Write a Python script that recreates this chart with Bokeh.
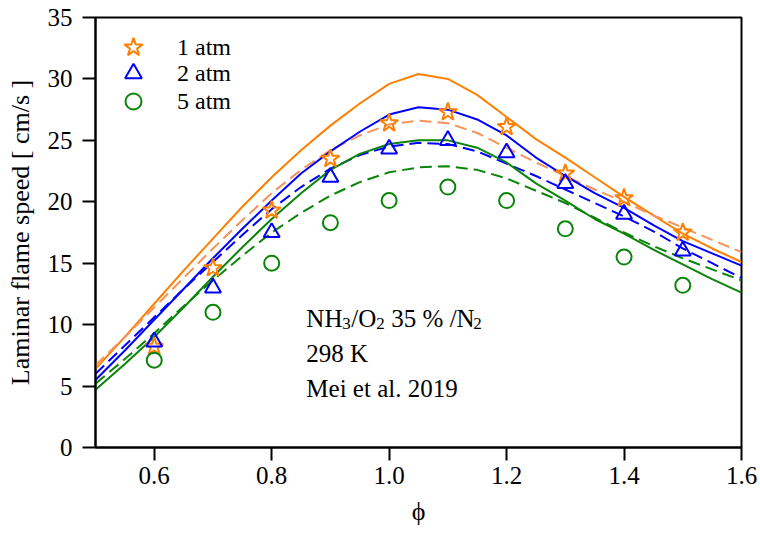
from bokeh.plotting import figure
from bokeh.models import Range1d, FixedTicker, PrintfTickFormatter, Label, Legend, LegendItem
from bokeh.embed import file_html
from bokeh.resources import INLINE

# ---- data ----
phi_curve = [0.50, 0.55, 0.60, 0.65, 0.70, 0.75, 0.80, 0.85, 0.90, 0.95, 1.00, 1.05,
             1.10, 1.15, 1.20, 1.25, 1.30, 1.35, 1.40, 1.45, 1.50, 1.55, 1.60]
sim_1atm_a = [6.4, 9.0, 11.7, 14.4, 17.0, 19.6, 22.0, 24.2, 26.2, 28.0, 29.6, 30.4,
              30.0, 28.7, 26.9, 25.1, 23.6, 22.0, 20.4, 18.9, 17.4, 16.2, 15.1]
sim_1atm_b = [6.7, 9.0, 11.4, 13.8, 16.2, 18.5, 20.7, 22.6, 24.2, 25.4, 26.3, 26.6,
              26.4, 25.6, 24.4, 23.2, 22.1, 21.0, 20.0, 18.9, 17.9, 16.9, 15.9]
sim_2atm_a = [5.5, 7.9, 10.4, 12.9, 15.4, 17.8, 20.1, 22.3, 24.1, 25.7, 27.1, 27.7,
              27.5, 26.7, 25.4, 23.6, 22.1, 20.7, 19.5, 18.1, 16.8, 15.8, 14.8]
sim_2atm_b = [6.0, 8.3, 10.6, 12.9, 15.1, 17.3, 19.4, 21.2, 22.7, 23.8, 24.5, 24.8,
              24.7, 24.1, 23.1, 22.1, 21.0, 19.9, 18.8, 17.6, 16.2, 15.0, 13.8]
sim_5atm_a = [4.7, 6.8, 9.0, 11.4, 13.9, 16.3, 18.6, 20.7, 22.6, 23.9, 24.7, 25.0,
              25.0, 24.4, 23.2, 21.5, 20.1, 18.6, 17.4, 16.1, 14.9, 13.7, 12.6]
sim_5atm_b = [5.2, 7.2, 9.3, 11.5, 13.6, 15.6, 17.5, 19.1, 20.5, 21.6, 22.4, 22.8,
              22.9, 22.6, 21.9, 20.9, 19.9, 18.7, 17.5, 16.4, 15.4, 14.5, 13.6]

phi_exp = [0.6, 0.7, 0.8, 0.9, 1.0, 1.1, 1.2, 1.3, 1.4, 1.5]
exp_1atm = [8.2, 14.6, 19.3, 23.5, 26.4, 27.3, 26.1, 22.3, 20.3, 17.5]
exp_2atm = [8.6, 13.0, 17.5, 22.0, 24.3, 25.0, 24.0, 21.5, 19.0, 16.0]
exp_5atm = [7.1, 11.0, 15.0, 18.3, 20.1, 21.2, 20.1, 17.8, 15.5, 13.2]

legend_labels = ["1 atm", "2 atm", "5 atm"]
x_ticks = [0.6, 0.8, 1.0, 1.2, 1.4, 1.6]
y_ticks = [0, 5, 10, 15, 20, 25, 30, 35]

FONT = "Liberation Serif"
AXFONT = "Liberation Serif, DejaVu Serif"
ORANGE = "#FF8000"
ORANGE_D = "#F5935A"
BLUE = "#0000FF"
GREEN = "#0A850A"

p = figure(width=760, height=535, output_backend="svg", toolbar_location=None,
           x_range=Range1d(0.5, 1.6), y_range=Range1d(0, 35),
           min_border_left=95, min_border_right=19, min_border_top=17, min_border_bottom=88)
p.grid.visible = False
p.background_fill_color = "white"
p.outline_line_color = "black"
p.outline_line_width = 2
p.outline_line_alpha = 1

xa = p.xaxis[0]
ya = p.yaxis[0]
for ax in (xa, ya):
    ax.axis_line_width = 2
    ax.major_tick_line_width = 2
    ax.major_tick_out = 13
    ax.major_tick_in = 0
    ax.minor_tick_line_color = None
    ax.major_label_text_font = AXFONT
    ax.major_label_text_font_size = "25px"
    ax.major_label_text_color = "black"
    ax.axis_label_text_font = AXFONT
    ax.axis_label_text_font_style = "normal"
    ax.axis_label_text_font_size = "26px"
    ax.axis_label_text_color = "black"

xa.ticker = FixedTicker(ticks=x_ticks)
xa.formatter = PrintfTickFormatter(format="%.1f")
ya.ticker = FixedTicker(ticks=y_ticks)
xa.axis_label = "ϕ"
ya.axis_label = "Laminar flame speed [ cm/s ]"
xa.major_label_standoff = 6
ya.major_label_standoff = 10
xa.axis_label_standoff = 10
ya.axis_label_standoff = 10

dash = "12 6"
p.line(phi_curve, sim_1atm_a, line_color=ORANGE, line_width=2)
p.line(phi_curve, sim_1atm_b, line_color=ORANGE_D, line_width=2, line_dash=dash)
p.line(phi_curve, sim_2atm_a, line_color=BLUE, line_width=2)
p.line(phi_curve, sim_2atm_b, line_color=BLUE, line_width=2, line_dash=dash)
p.line(phi_curve, sim_5atm_a, line_color=GREEN, line_width=2)
p.line(phi_curve, sim_5atm_b, line_color=GREEN, line_width=2, line_dash=dash)

r1 = p.scatter(phi_exp, exp_1atm, marker="star", size=19, fill_color=None,
               line_color=ORANGE, line_width=2)
r2 = p.scatter(phi_exp, exp_2atm, marker="triangle", size=16, fill_color=None,
               line_color=BLUE, line_width=2)
r3 = p.scatter(phi_exp, exp_5atm, marker="circle", size=15, fill_color=None,
               line_color=GREEN, line_width=2)

# one legend box per entry so that each glyph can be large while rows stay tight
legend_specs = [(r1, legend_labels[0], 48, (14, 376), 20),
                (r2, legend_labels[1], 42, (17, 353), 23),
                (r3, legend_labels[2], 40, (18, 326), 24)]
for rend, lab, gsize, loc, standoff in legend_specs:
    lg = Legend(items=[LegendItem(label=lab, renderers=[rend])], location=loc,
                border_line_color=None, background_fill_alpha=0, padding=0, margin=0,
                spacing=0, glyph_width=gsize, glyph_height=gsize, label_height=gsize,
                label_standoff=standoff, label_text_font=AXFONT,
                label_text_font_size="24px", label_text_color="black")
    p.add_layout(lg)

# annotation text (screen offsets used for subscripts)
ax0 = 0.859
line1_y = 10.5
parts = [("NH", 0, 0, "25px"), ("3", 36, -5, "17px"), ("/O", 45, 0, "25px"),
         ("2", 70, -5, "17px"), ("35 % /N", 85, 0, "25px"), ("2", 167, -5, "17px")]
for txt, dx, dy, fs in parts:
    p.add_layout(Label(x=ax0, y=line1_y, text=txt, x_offset=dx, y_offset=dy,
                       text_font=FONT, text_font_size=fs, text_color="black",
                       text_baseline="alphabetic"))
p.add_layout(Label(x=ax0, y=7.65, text="298 K", text_font=FONT, text_font_size="25px",
                   text_color="black", text_baseline="alphabetic"))
p.add_layout(Label(x=ax0, y=4.8, text="Mei et al. 2019", text_font=FONT,
                   text_font_size="25px", text_color="black", text_baseline="alphabetic"))

open("out.html", "w").write(file_html(p, INLINE))
